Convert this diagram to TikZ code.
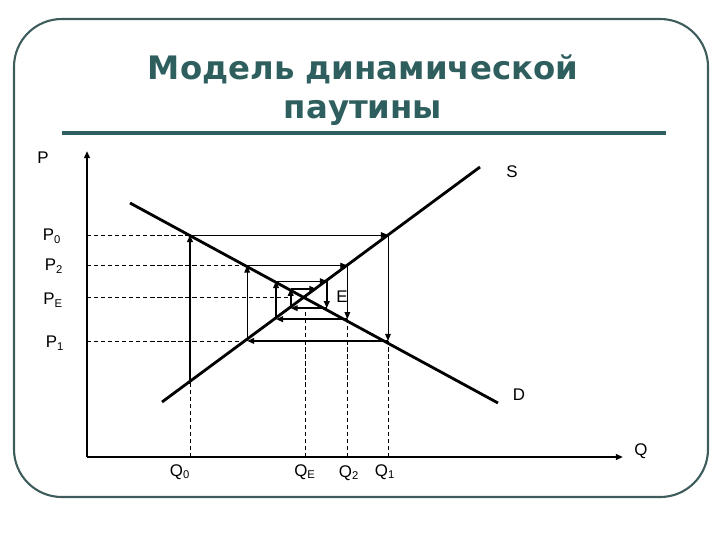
\documentclass[tikz,border=0pt]{standalone}
\usepackage{fontspec}
\setmainfont{Liberation Sans}
\newfontfamily\titlefont{DejaVu Sans}
\usetikzlibrary{arrows.meta}
\usetikzlibrary{positioning}
\definecolor{slate}{RGB}{46,94,94}
\definecolor{framegray}{RGB}{62,92,92}
\tikzset{axis/.style={draw,line width=1.3pt,-{Triangle[length=5pt,width=4pt]}}}
\tikzset{curve/.style={draw,line width=2pt}}
\tikzset{cob/.style={draw,-{Triangle[length=5pt,width=4pt]}}}
\tikzset{guide/.style={draw,dashed,line width=0.5pt,dash pattern=on 3pt off 2pt}}
\tikzset{lbl/.style={font=\fontsize{12}{14}\selectfont,inner sep=1pt}}
\newcommand{\idx}[1]{\textsubscript{#1}}

\begin{document}
\begin{tikzpicture}
      [
      x=0.025cm,y=-0.025cm,
      ]
      \useasboundingbox (0,0) rectangle (720,540);

      % frame and title
      \draw [framegray,line width=1.5pt,rounded corners=34pt]
      (14,19) rectangle (708,497);
      \node [slate,font=\titlefont\fontsize{23}{27.5}\selectfont\bfseries,align=center] (title) at (363,90)
      {Модель динамической\\паутины};
      \draw [slate,line width=2.2pt] (62,133) -- (666,133);

      % axes
      \coordinate (O) at (87,457);
      \path [axis] (O) -- (87,151);
      \path [axis] (O) -- (623,457);

      % supply and demand
      \path [curve] (130,203) -- (498,403);
      \path [curve] (162,402) -- (480,167);

      % guides
      \foreach \y/\x in {235/190, 265.57/247.14, 296.89/290.69, 340.93/247.14}
      {
      \path [guide] (87,\y) -- (\x,\y);
      }
      \foreach \x/\y in {190/383.9, 305.69/308.18, 347.35/319.18, 388/340.93}
      {
      \path [guide] (\x,457) -- (\x,\y);
      }

      % cobweb
      \foreach \xa/\ya/\xb/\yb/\w in
      {
      190/383.9/190/235/1.2,
      190/235/388/235/0.6,
      388/235/388/340.93/0.6,
      388/340.93/247.14/340.93/1.2,
      247.14/340.93/247.14/265.57/0.6,
      247.14/265.57/347.35/265.57/0.6,
      347.35/265.57/347.35/319.18/0.6,
      347.35/319.18/276.06/319.18/1.2,
      276.06/319.18/276.06/281.04/1.2,
      276.06/281.04/326.78/281.04/0.6,
      326.78/281.04/326.78/308.18/1.2,
      326.78/308.18/290.69/308.18/1.2,
      290.69/308.18/290.69/288.87/1.2,
      290.69/288.87/316.36/288.87/1.2
      }
      {
      \path [cob,line width=\w pt] (\xa,\ya) -- (\xb,\yb);
      }

      % labels
      \foreach \n/\x/\y/\t in
      {
      P/43/158/P, P0/52/236/P\idx{0}, P2/54/266/P\idx{2}, PE/53/300/P\idx{E},
      P1/55/343/P\idx{1}, S/512/172/S, E/342/297/E, D/519/395/D, Q/641/451/Q,
      Q0/180/472/Q\idx{0}, QE/305/472/Q\idx{E}, Q2/349/473/Q\idx{2}, Q1/385/472/Q\idx{1}
      }
      {
      \node [lbl] (l\n) at (\x,\y) {\t};
      }

    \end{tikzpicture}
\end{document}
